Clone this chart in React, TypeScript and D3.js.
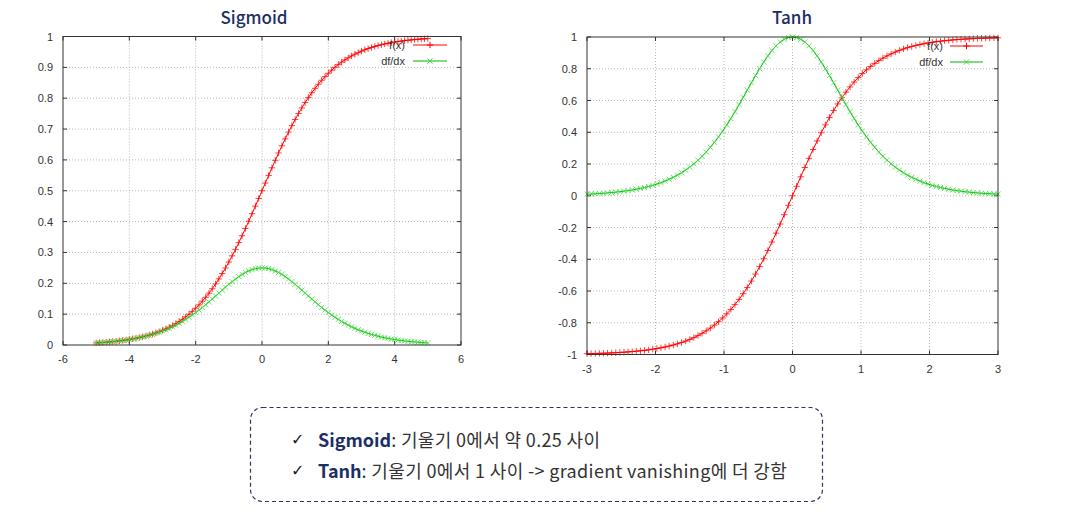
import React from "react";
import * as d3 from "d3";

const SIG_X = [-5,-4.9,-4.8,-4.7,-4.6,-4.5,-4.4,-4.3,-4.2,-4.1,-4,-3.9,-3.8,-3.7,-3.6,-3.5,-3.4,-3.3,-3.2,-3.1,-3,-2.9,-2.8,-2.7,-2.6,-2.5,-2.4,-2.3,-2.2,-2.1,-2,-1.9,-1.8,-1.7,-1.6,-1.5,-1.4,-1.3,-1.2,-1.1,-1,-0.9,-0.8,-0.7,-0.6,-0.5,-0.4,-0.3,-0.2,-0.1,0,0.1,0.2,0.3,0.4,0.5,0.6,0.7,0.8,0.9,1,1.1,1.2,1.3,1.4,1.5,1.6,1.7,1.8,1.9,2,2.1,2.2,2.3,2.4,2.5,2.6,2.7,2.8,2.9,3,3.1,3.2,3.3,3.4,3.5,3.6,3.7,3.8,3.9,4,4.1,4.2,4.3,4.4,4.5,4.6,4.7,4.8,4.9,5];
const SIG_F = [0.0067,0.0074,0.0082,0.0090,0.0100,0.0110,0.0121,0.0134,0.0148,0.0163,0.0180,0.0198,0.0219,0.0241,0.0266,0.0293,0.0323,0.0356,0.0392,0.0431,0.0474,0.0522,0.0573,0.0630,0.0691,0.0759,0.0832,0.0911,0.0998,0.1091,0.1192,0.1301,0.1419,0.1545,0.1680,0.1824,0.1978,0.2142,0.2315,0.2497,0.2689,0.2891,0.3100,0.3318,0.3543,0.3775,0.4013,0.4256,0.4502,0.4750,0.5,0.5250,0.5498,0.5744,0.5987,0.6225,0.6457,0.6682,0.6900,0.7109,0.7311,0.7503,0.7685,0.7858,0.8022,0.8176,0.8320,0.8455,0.8581,0.8699,0.8808,0.8909,0.9002,0.9089,0.9168,0.9241,0.9309,0.9370,0.9427,0.9478,0.9526,0.9569,0.9608,0.9644,0.9677,0.9707,0.9734,0.9759,0.9781,0.9802,0.9820,0.9837,0.9852,0.9866,0.9879,0.9890,0.9900,0.9910,0.9918,0.9926,0.9933];
const SIG_DF = [0.0066,0.0073,0.0081,0.0089,0.0099,0.0109,0.0120,0.0132,0.0146,0.0160,0.0177,0.0195,0.0214,0.0235,0.0259,0.0285,0.0313,0.0343,0.0376,0.0413,0.0452,0.0494,0.0540,0.0590,0.0644,0.0701,0.0763,0.0828,0.0898,0.0972,0.1050,0.1132,0.1217,0.1306,0.1398,0.1491,0.1587,0.1683,0.1779,0.1874,0.1966,0.2055,0.2139,0.2217,0.2288,0.2350,0.2403,0.2445,0.2475,0.2494,0.25,0.2494,0.2475,0.2445,0.2403,0.2350,0.2288,0.2217,0.2139,0.2055,0.1966,0.1874,0.1779,0.1683,0.1587,0.1491,0.1398,0.1306,0.1217,0.1132,0.1050,0.0972,0.0898,0.0828,0.0763,0.0701,0.0644,0.0590,0.0540,0.0494,0.0452,0.0413,0.0376,0.0343,0.0313,0.0285,0.0259,0.0235,0.0214,0.0195,0.0177,0.0160,0.0146,0.0132,0.0120,0.0109,0.0099,0.0089,0.0081,0.0073,0.0066];
const SIG_X_TICKS = [-6, -4, -2, 0, 2, 4, 6];
const SIG_Y_TICKS = [0, 0.1, 0.2, 0.3, 0.4, 0.5, 0.6, 0.7, 0.8, 0.9, 1];

const TANH_X = [-3,-2.94,-2.88,-2.82,-2.76,-2.7,-2.64,-2.58,-2.52,-2.46,-2.4,-2.34,-2.28,-2.22,-2.16,-2.1,-2.04,-1.98,-1.92,-1.86,-1.8,-1.74,-1.68,-1.62,-1.56,-1.5,-1.44,-1.38,-1.32,-1.26,-1.2,-1.14,-1.08,-1.02,-0.96,-0.9,-0.84,-0.78,-0.72,-0.66,-0.6,-0.54,-0.48,-0.42,-0.36,-0.3,-0.24,-0.18,-0.12,-0.06,0,0.06,0.12,0.18,0.24,0.3,0.36,0.42,0.48,0.54,0.6,0.66,0.72,0.78,0.84,0.9,0.96,1.02,1.08,1.14,1.2,1.26,1.32,1.38,1.44,1.5,1.56,1.62,1.68,1.74,1.8,1.86,1.92,1.98,2.04,2.1,2.16,2.22,2.28,2.34,2.4,2.46,2.52,2.58,2.64,2.7,2.76,2.82,2.88,2.94,3];
const TANH_F = [-0.9951,-0.9944,-0.9937,-0.9929,-0.9920,-0.9910,-0.9899,-0.9886,-0.9871,-0.9855,-0.9837,-0.9816,-0.9793,-0.9767,-0.9738,-0.9705,-0.9668,-0.9626,-0.9579,-0.9527,-0.9468,-0.9402,-0.9329,-0.9246,-0.9154,-0.9052,-0.8937,-0.8810,-0.8668,-0.8511,-0.8337,-0.8144,-0.7932,-0.7699,-0.7443,-0.7163,-0.6858,-0.6527,-0.6169,-0.5784,-0.5371,-0.4930,-0.4463,-0.3969,-0.3452,-0.2913,-0.2355,-0.1781,-0.1194,-0.0599,0,0.0599,0.1194,0.1781,0.2355,0.2913,0.3452,0.3969,0.4463,0.4930,0.5371,0.5784,0.6169,0.6527,0.6858,0.7163,0.7443,0.7699,0.7932,0.8144,0.8337,0.8511,0.8668,0.8810,0.8937,0.9052,0.9154,0.9246,0.9329,0.9402,0.9468,0.9527,0.9579,0.9626,0.9668,0.9705,0.9738,0.9767,0.9793,0.9816,0.9837,0.9855,0.9871,0.9886,0.9899,0.9910,0.9920,0.9929,0.9937,0.9944,0.9951];
const TANH_DF = [0.0099,0.0111,0.0125,0.0141,0.0159,0.0179,0.0202,0.0227,0.0256,0.0288,0.0324,0.0364,0.0410,0.0461,0.0518,0.0582,0.0654,0.0734,0.0824,0.0924,0.1036,0.1160,0.1298,0.1451,0.1620,0.1807,0.2013,0.2239,0.2487,0.2757,0.3050,0.3367,0.3708,0.4073,0.4461,0.4869,0.5297,0.5740,0.6194,0.6655,0.7116,0.7570,0.8009,0.8425,0.8808,0.9151,0.9445,0.9683,0.9857,0.9964,1,0.9964,0.9857,0.9683,0.9445,0.9151,0.8808,0.8425,0.8009,0.7570,0.7116,0.6655,0.6194,0.5740,0.5297,0.4869,0.4461,0.4073,0.3708,0.3367,0.3050,0.2757,0.2487,0.2239,0.2013,0.1807,0.1620,0.1451,0.1298,0.1160,0.1036,0.0924,0.0824,0.0734,0.0654,0.0582,0.0518,0.0461,0.0410,0.0364,0.0324,0.0288,0.0256,0.0227,0.0202,0.0179,0.0159,0.0141,0.0125,0.0111,0.0099];
const TANH_X_TICKS = [-3, -2, -1, 0, 1, 2, 3];
const TANH_Y_TICKS = [-1, -0.8, -0.6, -0.4, -0.2, 0, 0.2, 0.4, 0.6, 0.8, 1];

const TITLES = ["Sigmoid", "Tanh"];
const LEGEND_LABELS = ["f(x)", "df/dx"];
const NOTE_BOLD = ["Sigmoid", "Tanh"];
const NOTE_REST = [": 기울기 0에서 약 0.25 사이", ": 기울기 0에서 1 사이 -> gradient vanishing에 더 강함"];

const RED = "#ff0000";
const GREEN = "#00b400";
const GREEN_MARK = "#44dd44";
const NAVY = "#1b2f66";
const TICK_FONT = "'Liberation Sans', Arial, sans-serif";
const KR_FONT = "'Noto Sans CJK KR', 'Noto Sans', sans-serif";

type Box = { l: number; r: number; t: number; b: number };

function plus(cx: number, cy: number, s = 3.2) {
  return `M${cx - s},${cy}h${2 * s}M${cx},${cy - s}v${2 * s}`;
}
function cross(cx: number, cy: number, s = 2.6) {
  return `M${cx - s},${cy - s}l${2 * s},${2 * s}M${cx - s},${cy + s}l${2 * s},${-2 * s}`;
}

function Panel(props: {
  title: string;
  titleX: number;
  xs: number[];
  f: number[];
  df: number[];
  xDomain: [number, number];
  yDomain: [number, number];
  xTicks: number[];
  yTicks: number[];
  box: Box;
  legend: { textX: number; l: number; r: number; y1: number; y2: number };
}) {
  const { title, titleX, xs, f, df, xDomain, yDomain, xTicks, yTicks, box, legend } = props;
  const x = d3.scaleLinear().domain(xDomain).range([box.l, box.r]);
  const y = d3.scaleLinear().domain(yDomain).range([box.b, box.t]);
  const line = d3
    .line<number>()
    .x((_, i) => x(xs[i]))
    .y((d) => y(d));
  const fMarks = f.map((v, i) => plus(x(xs[i]), y(v))).join("");
  const dfMarks = df.map((v, i) => cross(x(xs[i]), y(v))).join("");
  const tl = 4;
  return (
    <g>
      <text
        x={titleX}
        y={16}
        textAnchor="middle"
        dominantBaseline="central"
        fontFamily={KR_FONT}
        fontSize={17}
        fontWeight={500}
        fill={NAVY}
      >
        {title}
      </text>
      {/* grid */}
      <g stroke="#b8b8b8" strokeWidth={1} strokeDasharray="1,2">
        {xTicks.slice(1, -1).map((t) => (
          <line key={"gx" + t} x1={x(t)} x2={x(t)} y1={box.t} y2={box.b} />
        ))}
        {yTicks.slice(1, -1).map((t) => (
          <line key={"gy" + t} x1={box.l} x2={box.r} y1={y(t)} y2={y(t)} />
        ))}
      </g>
      {/* ticks */}
      <g stroke="#333" strokeWidth={1}>
        {xTicks.map((t) => (
          <g key={"tx" + t}>
            <line x1={x(t)} x2={x(t)} y1={box.b} y2={box.b - tl} />
            <line x1={x(t)} x2={x(t)} y1={box.t} y2={box.t + tl} />
          </g>
        ))}
        {yTicks.map((t) => (
          <g key={"ty" + t}>
            <line x1={box.l} x2={box.l + tl} y1={y(t)} y2={y(t)} />
            <line x1={box.r} x2={box.r - tl} y1={y(t)} y2={y(t)} />
          </g>
        ))}
      </g>
      {/* labels */}
      <g fontFamily={TICK_FONT} fontSize={11} fill="#333">
        {xTicks.map((t) => (
          <text key={"lx" + t} x={x(t)} y={box.b + 14} textAnchor="middle" dominantBaseline="central">
            {String(t)}
          </text>
        ))}
        {yTicks.map((t) => (
          <text key={"ly" + t} x={box.l - 10} y={y(t)} textAnchor="end" dominantBaseline="central">
            {String(t)}
          </text>
        ))}
      </g>
      {/* series */}
      <path d={line(f) || ""} fill="none" stroke={RED} strokeWidth={1} />
      <path d={fMarks} fill="none" stroke={RED} strokeWidth={1} strokeOpacity={0.75} />
      <path d={line(df) || ""} fill="none" stroke={GREEN} strokeWidth={1} />
      <path d={dfMarks} fill="none" stroke={GREEN_MARK} strokeWidth={1} strokeOpacity={0.8} />
      {/* legend */}
      <g fontFamily={TICK_FONT} fontSize={11} fill="#333">
        <text x={legend.textX} y={legend.y1} textAnchor="end" dominantBaseline="central">
          {LEGEND_LABELS[0]}
        </text>
        <text x={legend.textX} y={legend.y2} textAnchor="end" dominantBaseline="central">
          {LEGEND_LABELS[1]}
        </text>
      </g>
      <line x1={legend.l} x2={legend.r} y1={legend.y1} y2={legend.y1} stroke={RED} />
      <path d={plus((legend.l + legend.r) / 2, legend.y1)} stroke={RED} fill="none" />
      <line x1={legend.l} x2={legend.r} y1={legend.y2} y2={legend.y2} stroke={GREEN} />
      <path d={cross((legend.l + legend.r) / 2, legend.y2)} stroke={GREEN_MARK} fill="none" />
      {/* border */}
      <rect
        x={box.l}
        y={box.t}
        width={box.r - box.l}
        height={box.b - box.t}
        fill="none"
        stroke="#333"
        strokeWidth={1}
      />
    </g>
  );
}

export default function App() {
  return (
    <svg
      width={1078}
      height={531}
      style={{ position: "absolute", left: 0, top: 0, background: "#fff" }}
    >
      <rect x={0} y={0} width={1078} height={531} fill="#fff" />
      <Panel
        title={TITLES[0]}
        titleX={254}
        xs={SIG_X}
        f={SIG_F}
        df={SIG_DF}
        xDomain={[-6, 6]}
        yDomain={[0, 1]}
        xTicks={SIG_X_TICKS}
        yTicks={SIG_Y_TICKS}
        box={{ l: 63, r: 461, t: 36.5, b: 345 }}
        legend={{ textX: 405, l: 413, r: 447, y1: 45, y2: 61 }}
      />
      <Panel
        title={TITLES[1]}
        titleX={792}
        xs={TANH_X}
        f={TANH_F}
        df={TANH_DF}
        xDomain={[-3, 3]}
        yDomain={[-1, 1]}
        xTicks={TANH_X_TICKS}
        yTicks={TANH_Y_TICKS}
        box={{ l: 587, r: 998, t: 37, b: 354.5 }}
        legend={{ textX: 943, l: 950, r: 983, y1: 46, y2: 62 }}
      />
      <rect
        x={250.5}
        y={407.5}
        width={572}
        height={94}
        rx={12}
        ry={12}
        fill="none"
        stroke="#2a3560"
        strokeWidth={1.2}
        strokeDasharray="4,3"
      />
      {NOTE_BOLD.map((b, i) => (
        <g key={b}>
          <text
            x={291}
            y={439 + i * 31}
            dominantBaseline="central"
            fontFamily="'DejaVu Sans', sans-serif"
            fontSize={16}
            fontWeight={700}
            fill="#1a1a2e"
          >
            ✓
          </text>
          <text
            x={318}
            y={439 + i * 31}
            dominantBaseline="central"
            fontFamily={KR_FONT}
            fontSize={18}
            fill="#333"
          >
            <tspan fontWeight={700} fill={NAVY}>
              {b}
            </tspan>
            <tspan letterSpacing={0.35}>{NOTE_REST[i]}</tspan>
          </text>
        </g>
      ))}
    </svg>
  );
}
